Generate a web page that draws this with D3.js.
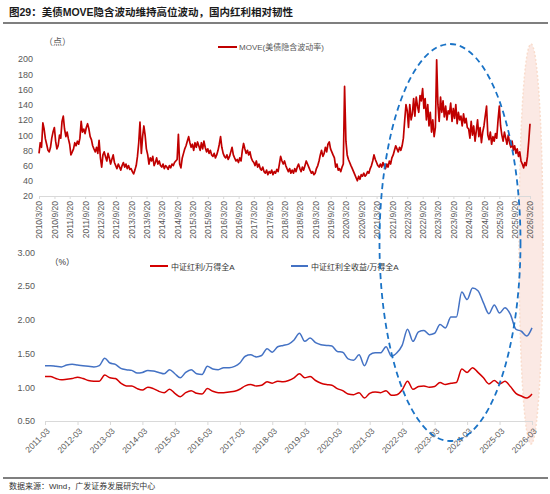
<!DOCTYPE html>
<html>
<head>
<meta charset="utf-8">
<script src="https://cdn.jsdelivr.net/npm/d3@7"></script>
<style>
  body { margin: 0; background: #fff; }
  text { font-family: "Liberation Sans", "Noto Sans CJK SC", sans-serif; }
</style>
</head>
<body>
<script>
const w = 550;
const h = 494;
const axisGrey = "#d9d9d9";
const labelGrey = "#595959";

// MOVE index, one value every half month from 2010/3/20
const moveValues = [
  76, 90, 84, 116, 108, 95, 88, 80, 78, 84, 96, 104, 110, 92, 82, 86, 100, 96, 118, 125, 108, 98, 104, 95,
  88, 74, 78, 82, 90, 86, 92, 88, 96, 118, 104, 108, 102, 110, 115, 108, 98, 94, 86, 82, 78, 84, 76, 93,
  70, 58, 74, 78, 72, 66, 76, 70, 62, 68, 74, 64, 60, 56, 62, 58, 54, 60, 64, 58, 62, 56, 60, 55,
  56, 52, 49, 54, 60, 72, 90, 117, 76, 98, 112, 100, 82, 74, 62, 70, 66, 72, 60, 64, 70, 62, 66, 60,
  58, 62, 56, 60, 58, 55, 60, 57, 62, 60, 64, 66, 68, 101, 62, 57, 70, 76, 82, 86, 92, 98, 90, 84,
  88, 80, 90, 84, 91, 86, 80, 90, 82, 92, 84, 78, 82, 76, 80, 74, 72, 76, 70, 74, 80, 88, 98, 84,
  76, 72, 70, 74, 68, 72, 78, 84, 74, 70, 66, 68, 64, 70, 66, 80, 89, 82, 76, 80, 74, 78, 70, 66,
  64, 60, 66, 58, 62, 56, 54, 58, 52, 50, 54, 48, 52, 50, 54, 48, 52, 50, 55, 52, 62, 72, 66, 62,
  66, 60, 56, 52, 56, 50, 54, 50, 56, 52, 58, 62, 56, 52, 58, 54, 60, 66, 62, 58, 54, 50, 52, 48,
  50, 56, 60, 66, 74, 80, 72, 76, 84, 78, 88, 91, 82, 78, 74, 70, 58, 62, 54, 56, 52, 58, 62, 164,
  92, 74, 68, 64, 60, 56, 52, 48, 44, 40, 46, 42, 48, 46, 50, 46, 48, 52, 50, 56, 60, 66, 74, 68,
  64, 60, 58, 62, 58, 64, 60, 56, 62, 58, 66, 62, 70, 74, 80, 86, 82, 78, 84, 80, 86, 96, 120, 140,
  132, 110, 140, 120, 128, 148, 125, 150, 138, 130, 152, 145, 161, 135, 148, 120, 140, 112, 130, 104, 120, 98, 110, 199,
  140, 118, 150, 130, 145, 124, 138, 120, 132, 128, 142, 118, 135, 122, 140, 115, 130, 120, 125, 112, 128, 116, 122, 110,
  108, 96, 118, 100, 112, 92, 106, 120, 98, 110, 90, 104, 112, 125, 138, 100, 94, 104, 88, 98, 92, 102, 96, 120,
  138, 112, 100, 92, 104, 96, 88, 100, 90, 84, 92, 80, 86, 76, 82, 72, 78, 66, 62, 57, 64, 60, 72, 92, 115
];
const moveStart = new Date(2010, 2, 20);
const moveTicks = d3.range(33).map(j => d3.timeMonth.offset(moveStart, 6 * j));
const moveYTicks = [20, 40, 60, 80, 100, 120, 140, 160, 180, 200];

// dividend ratios, one value every two months from 2011-03
const divStart = new Date(2011, 2, 1);
const divPrice = [
  1.16, 1.16, 1.13, 1.11, 1.12, 1.13, 1.15, 1.13, 1.10, 1.09, 1.09, 1.18, 1.14, 1.13, 1.06, 1.02,
  1.02, 0.98, 0.96, 1.00, 0.98, 0.94, 0.92, 0.97, 0.91, 0.86, 0.92, 0.95, 0.91, 0.90, 0.98, 0.94,
  0.92, 0.92, 0.93, 0.94, 0.97, 1.02, 1.04, 1.02, 1.03, 1.08, 1.06, 1.09, 1.08, 1.10, 1.14, 1.20,
  1.14, 1.16, 1.10, 1.06, 1.04, 1.03, 0.98, 0.95, 0.90, 0.89, 0.92, 0.84, 0.91, 0.93, 0.92, 0.95,
  0.88, 0.89, 0.96, 1.09, 0.97, 1.01, 1.02, 1.00, 1.01, 1.07, 1.04, 1.06, 1.07, 1.27, 1.22, 1.29,
  1.22, 1.14, 1.05, 1.10, 1.05, 1.09, 1.01, 0.91, 0.87, 0.84, 0.90
];
const divTotal = [
  1.32, 1.32, 1.31, 1.30, 1.33, 1.34, 1.33, 1.32, 1.31, 1.30, 1.32, 1.43, 1.36, 1.34, 1.28, 1.26,
  1.25, 1.21, 1.22, 1.25, 1.24, 1.22, 1.20, 1.26, 1.20, 1.14, 1.22, 1.26, 1.20, 1.19, 1.31, 1.27,
  1.26, 1.29, 1.29, 1.31, 1.36, 1.46, 1.48, 1.45, 1.47, 1.57, 1.52, 1.60, 1.62, 1.64, 1.70, 1.80,
  1.68, 1.73, 1.66, 1.63, 1.62, 1.61, 1.53, 1.52, 1.42, 1.40, 1.48, 1.32, 1.48, 1.51, 1.51, 1.60,
  1.46, 1.51, 1.62, 1.86, 1.68, 1.82, 1.84, 1.78, 1.80, 1.93, 1.88, 2.04, 2.04, 2.41, 2.30, 2.47,
  2.43, 2.25, 2.09, 2.22, 2.10, 2.18, 2.08, 1.86, 1.83, 1.76, 1.88
];
const divYears = d3.range(2011, 2027);
const divYTicks = [0.5, 1.0, 1.5, 2.0, 2.5, 3.0];

const svg = d3.select("body")
              .append("svg")
              .attr("width", w)
              .attr("height", h);

// title + rules
svg.append("text")
   .attr("x", 9).attr("y", 16)
   .attr("font-size", 10.5).attr("font-weight", "bold").attr("fill", "#1a1a1a")
   .text("图29：美债MOVE隐含波动维持高位波动，国内红利相对韧性");
svg.append("line").attr("x1", 3).attr("x2", 548).attr("y1", 23).attr("y2", 23)
   .attr("stroke", "#555").attr("stroke-width", 1.5);
svg.append("line").attr("x1", 3).attr("x2", 548).attr("y1", 478).attr("y2", 478)
   .attr("stroke", "#555").attr("stroke-width", 1.5);
svg.append("text")
   .attr("x", 9).attr("y", 489)
   .attr("font-size", 8).attr("fill", "#333")
   .text("数据来源：Wind，广发证券发展研究中心");

// pink highlight behind everything
svg.append("ellipse")
   .attr("cx", 531).attr("cy", 244).attr("rx", 12).attr("ry", 200)
   .attr("fill", "#fbe9e4").attr("stroke", "#f9dccc")
   .attr("stroke-width", 1.5).attr("stroke-dasharray", "2,2");

// ---------- top: MOVE ----------
const x1 = d3.scaleTime()
             .domain([moveStart, new Date(2026, 2, 20)])
             .range([39, 530]);
const y1 = d3.scaleLinear().domain([20, 200]).range([196, 59]);

const moveData = moveValues.map((v, i) => ({
  date: d3.timeDay.offset(moveStart, Math.round(i * 365.25 / 24)),
  value: v
}));

const xAxis1 = svg.append("g")
   .attr("transform", "translate(0,196)")
   .call(d3.axisBottom(x1).tickValues(moveTicks).tickSize(3)
           .tickFormat(d3.timeFormat("%Y/%-m/%-d")));
xAxis1.select(".domain").attr("stroke", axisGrey);
xAxis1.selectAll(".tick line").attr("stroke", axisGrey);
xAxis1.selectAll("text")
   .attr("font-size", 8.5).attr("fill", labelGrey)
   .attr("text-anchor", "end")
   .attr("transform", "rotate(-90)")
   .attr("x", -5).attr("y", 0).attr("dy", "0.35em");

const yAxis1 = svg.append("g")
   .attr("transform", "translate(39,0)")
   .call(d3.axisLeft(y1).tickValues(moveYTicks).tickSize(0).tickPadding(6));
yAxis1.select(".domain").remove();
yAxis1.selectAll("text").attr("font-size", 9).attr("fill", labelGrey);

svg.append("path")
   .datum(moveData)
   .attr("fill", "none")
   .attr("stroke", "#c00000")
   .attr("stroke-width", 1.7)
   .attr("stroke-linejoin", "round")
   .attr("d", d3.line().x(d => x1(d.date)).y(d => y1(d.value)));

svg.append("text").attr("x", 44).attr("y", 45)
   .attr("font-size", 9).attr("fill", labelGrey).text("（点）");
svg.append("line").attr("x1", 218).attr("x2", 237).attr("y1", 47).attr("y2", 47)
   .attr("stroke", "#c00000").attr("stroke-width", 2);
svg.append("text").attr("x", 239).attr("y", 50)
   .attr("font-size", 8).attr("fill", labelGrey).text("MOVE(美债隐含波动率)");

// ---------- bottom: dividend ratios ----------
const x2 = d3.scaleTime()
             .domain([divStart, new Date(2026, 2, 1)])
             .range([45, 532]);
const y2 = d3.scaleLinear().domain([0.5, 3.0]).range([421, 252.3]);

const priceData = divPrice.map((v, k) => ({ date: d3.timeMonth.offset(divStart, 2 * k), value: v }));
const totalData = divTotal.map((v, k) => ({ date: d3.timeMonth.offset(divStart, 2 * k), value: v }));

const xAxis2 = svg.append("g")
   .attr("transform", "translate(0,421)")
   .call(d3.axisBottom(x2).tickValues(divYears.map(y => new Date(y, 2, 1))).tickSize(4)
           .tickFormat(d3.timeFormat("%Y-%m")));
xAxis2.select(".domain").attr("stroke", axisGrey);
xAxis2.selectAll(".tick line").attr("stroke", axisGrey);
xAxis2.selectAll("text")
   .attr("font-size", 8.5).attr("fill", labelGrey)
   .attr("text-anchor", "end")
   .attr("transform", "rotate(-45)")
   .attr("x", -4).attr("y", 8).attr("dy", "0.35em");

const yAxis2 = svg.append("g")
   .attr("transform", "translate(41,0)")
   .call(d3.axisLeft(y2).tickValues(divYTicks).tickSize(0).tickPadding(6)
           .tickFormat(d3.format(".2f")));
yAxis2.select(".domain").remove();
yAxis2.selectAll("text").attr("font-size", 9).attr("fill", labelGrey);

const line2 = d3.line().curve(d3.curveMonotoneX)
   .x(d => x2(d.date)).y(d => y2(d.value));

svg.append("path").datum(totalData)
   .attr("fill", "none").attr("stroke", "#4472c4").attr("stroke-width", 1.5)
   .attr("d", line2);
svg.append("path").datum(priceData)
   .attr("fill", "none").attr("stroke", "#d40000").attr("stroke-width", 1.5)
   .attr("d", line2);

svg.append("text").attr("x", 50).attr("y", 265)
   .attr("font-size", 8.5).attr("fill", "#333").text("（%）");
svg.append("line").attr("x1", 150).attr("x2", 168).attr("y1", 266).attr("y2", 266)
   .attr("stroke", "#d40000").attr("stroke-width", 2);
svg.append("text").attr("x", 171).attr("y", 269.5)
   .attr("font-size", 8).attr("fill", "#333").text("中证红利/万得全A");
svg.append("line").attr("x1", 291).attr("x2", 308).attr("y1", 266).attr("y2", 266)
   .attr("stroke", "#4472c4").attr("stroke-width", 2);
svg.append("text").attr("x", 311).attr("y", 269.5)
   .attr("font-size", 8).attr("fill", "#333").text("中证红利全收益/万得全A");

// blue dashed highlight on top
svg.append("ellipse")
   .attr("cx", 450).attr("cy", 242.5).attr("rx", 70.5).attr("ry", 198.5)
   .attr("fill", "none").attr("stroke", "#1a73c6")
   .attr("stroke-width", 1.8).attr("stroke-dasharray", "6,4");
</script>
</body>
</html>
